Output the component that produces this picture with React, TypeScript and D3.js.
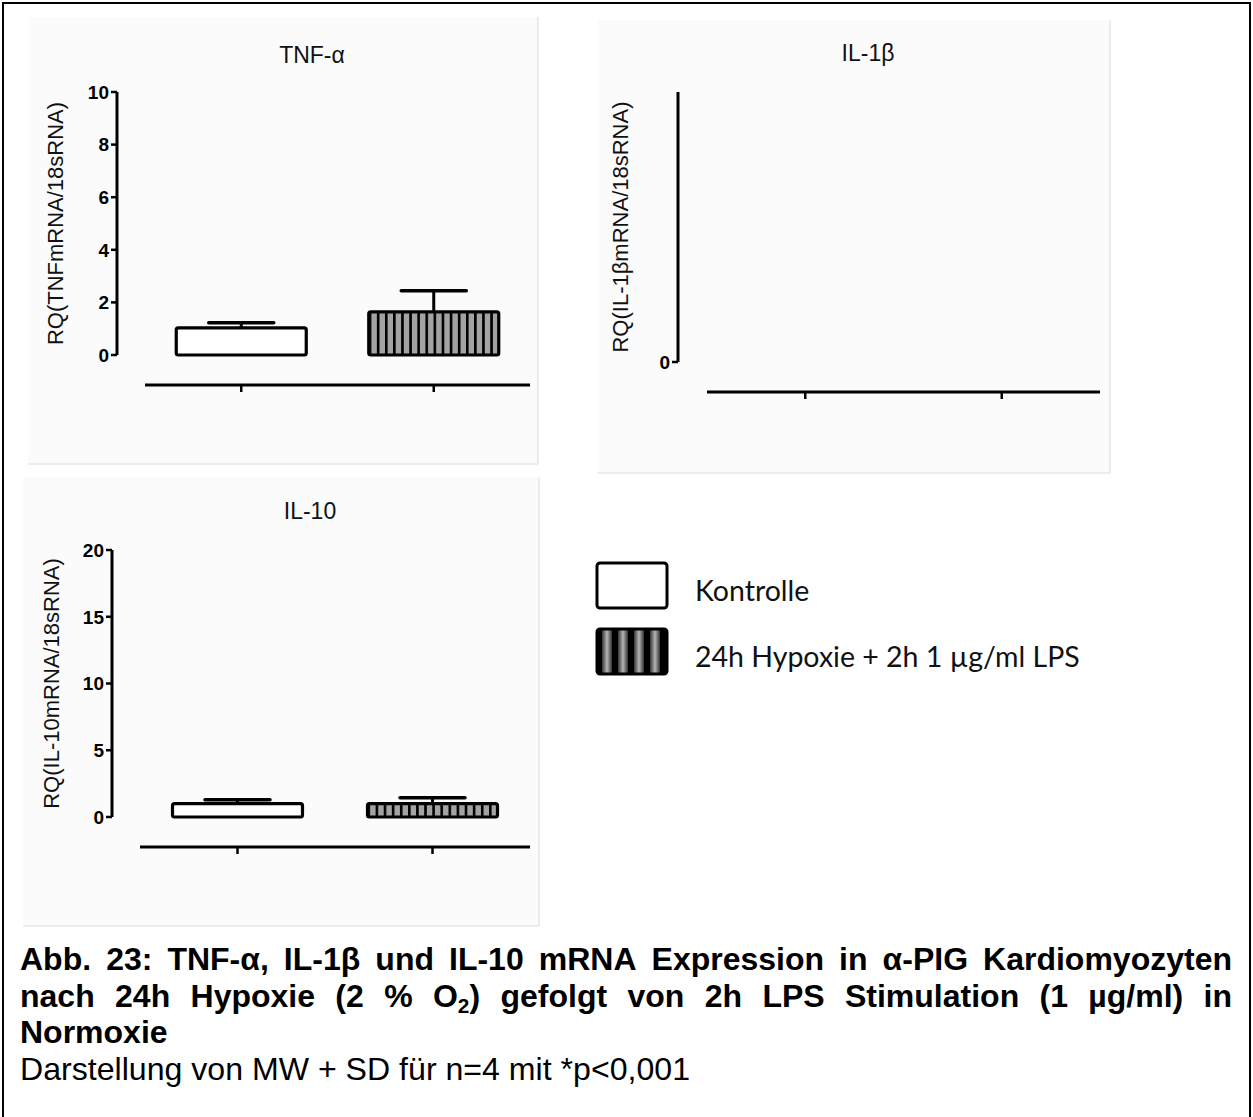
import React, { useRef, useEffect } from 'react';
import * as d3 from 'd3';

// groups (x categories)
const groups = ['Kontrolle', '24h Hypoxie + 2h 1 µg/ml LPS'];

// TNF-alpha: mean + SD
const tnfMean = [1.03, 1.64];
const tnfSd = [0.2, 0.8];
const tnfTicks = [0, 2, 4, 6, 8, 10];

// IL-1beta: nothing detected
const il1bMean = [0, 0];
const il1bSd = [0, 0];
const il1bTicks = [0];

// IL-10
const il10Mean = [1.0, 1.0];
const il10Sd = [0.3, 0.45];
const il10Ticks = [0, 5, 10, 15, 20];

const captionLines = [
  'Abb. 23: TNF-α, IL-1β und IL-10 mRNA Expression in α-PIG Kardiomyozyten',
  'nach 24h Hypoxie (2 % O_2) gefolgt von 2h LPS Stimulation (1 µg/ml) in',
  'Normoxie',
];
const captionNote = 'Darstellung von MW + SD für n=4 mit *p<0,001';

const ARIAL = '"Liberation Sans", Arial, sans-serif';

const panels = [
  {
    id: 'tnf', title: 'TNF-α', yLabel: 'RQ(TNFmRNA/18sRNA)',
    mean: tnfMean, sd: tnfSd, ticks: tnfTicks, yMax: 10,
    box: [28, 17, 510, 447], axisX: 117, yTop: 92, yBottom: 355,
    xAxisY: 385, xRange: [145, 530], labelX: 63, titleX: 312, titleY: 63,
  },
  {
    id: 'il1b', title: 'IL-1β', yLabel: 'RQ(IL-1βmRNA/18sRNA)',
    mean: il1bMean, sd: il1bSd, ticks: il1bTicks, yMax: 1,
    box: [598, 20, 512, 453], axisX: 678, yTop: 92, yBottom: 362,
    xAxisY: 392, xRange: [707, 1100], labelX: 628, titleX: 868, titleY: 61,
  },
  {
    id: 'il10', title: 'IL-10', yLabel: 'RQ(IL-10mRNA/18sRNA)',
    mean: il10Mean, sd: il10Sd, ticks: il10Ticks, yMax: 20,
    box: [23, 477, 516, 449], axisX: 112, yTop: 550, yBottom: 817,
    xAxisY: 847, xRange: [140, 530], labelX: 59, titleX: 310, titleY: 519,
  },
];

function Panel({ p }) {
  const y = d3.scaleLinear().domain([0, p.yMax]).range([p.yBottom, p.yTop]);
  const x = d3.scalePoint().domain(groups).range(p.xRange).padding(0.5);
  const barW = 130;
  const [bx, by, bw, bh] = p.box;
  const labelY = (p.yTop + p.yBottom) / 2;

  return (
    <g>
      <rect x={bx} y={by} width={bw} height={bh} fill="#fbfbfb" />
      <line x1={bx + bw} x2={bx + bw} y1={by} y2={by + bh} stroke="#e6e6e6" strokeWidth={1.5} />
      <line x1={bx} x2={bx + bw} y1={by + bh} y2={by + bh} stroke="#e6e6e6" strokeWidth={1.5} />

      <text x={p.titleX} y={p.titleY} textAnchor="middle"
        fontFamily={ARIAL} fontSize={23} fill="#111">{p.title}</text>

      <text transform={`translate(${p.labelX},${labelY}) rotate(-90)`} textAnchor="middle"
        fontFamily={ARIAL} fontSize={22} fill="#111">{p.yLabel}</text>

      {/* y axis */}
      <line x1={p.axisX} x2={p.axisX} y1={p.yTop} y2={p.yBottom} stroke="#000" strokeWidth={3} />
      {p.ticks.map(t => (
        <g key={t}>
          <line x1={p.axisX - 6} x2={p.axisX} y1={y(t)} y2={y(t)} stroke="#000" strokeWidth={2.5} />
          <text x={p.axisX - 8} y={y(t)} dy="0.36em" textAnchor="end"
            fontFamily={ARIAL} fontWeight="bold" fontSize={19}>{t}</text>
        </g>
      ))}

      {/* x axis */}
      <line x1={p.xRange[0]} x2={p.xRange[1]} y1={p.xAxisY} y2={p.xAxisY} stroke="#000" strokeWidth={3} />
      {groups.map(g => (
        <line key={g} x1={x(g)} x2={x(g)} y1={p.xAxisY} y2={p.xAxisY + 7} stroke="#000" strokeWidth={2.5} />
      ))}

      {/* bars with SD */}
      {groups.map((g, i) => {
        const m = p.mean[i];
        if (m <= 0) return null;
        const cx = x(g);
        const top = y(m);
        const errTop = y(m + p.sd[i]);
        return (
          <g key={g}>
            <line x1={cx} x2={cx} y1={top} y2={errTop} stroke="#000" strokeWidth={3} />
            <line x1={cx - barW / 4} x2={cx + barW / 4} y1={errTop} y2={errTop}
              stroke="#000" strokeWidth={3.5} strokeLinecap="round" />
            <rect x={cx - barW / 2} y={top} width={barW} height={y(0) - top}
              fill={i === 0 ? '#fff' : `url(#hatch-${p.id})`} stroke="#000" strokeWidth={3.2} rx={2} />
          </g>
        );
      })}
    </g>
  );
}

function Caption() {
  const ref = useRef(null);

  useEffect(() => {
    const g = d3.select(ref.current);
    g.selectAll('*').remove();
    const left = 20;
    const right = 1232;
    const fs = 32;
    const baseY = 970;
    const lh = 36.5;

    captionLines.forEach((line, li) => {
      const ly = baseY + li * lh;
      const justify = li < captionLines.length - 1;
      const lg = g.append('g');
      const words = line.split(' ');
      const nodes = words.map(w => {
        const t = lg.append('text')
          .attr('y', ly)
          .attr('font-family', ARIAL)
          .attr('font-weight', 'bold')
          .attr('font-size', fs);
        if (w.includes('_')) {
          const [a, rest] = w.split('_');
          t.append('tspan').text(a);
          t.append('tspan').attr('font-size', fs * 0.65).attr('dy', 6).text(rest[0]);
          t.append('tspan').attr('dy', -6).text(rest.slice(1));
        } else {
          t.text(w);
        }
        return t;
      });
      const widths = nodes.map(n => n.node().getComputedTextLength());
      const total = d3.sum(widths);
      const minGap = fs * 0.28;
      let gap = minGap;
      let sx = 1;
      if (justify) {
        const need = total + minGap * (words.length - 1);
        if (need > right - left) sx = (right - left) / need;
        else gap = (right - left - total) / (words.length - 1);
      }
      let cx = 0;
      nodes.forEach((n, i) => {
        n.attr('x', cx);
        cx += widths[i] + gap;
      });
      lg.attr('transform', `translate(${left},0) scale(${sx},1)`);
    });

    g.append('text')
      .attr('x', left)
      .attr('y', baseY + captionLines.length * lh)
      .attr('font-family', ARIAL)
      .attr('font-size', fs)
      .attr('textLength', 670)
      .attr('lengthAdjust', 'spacingAndGlyphs')
      .text(captionNote);
  }, []);

  return <g ref={ref} />;
}

export default function App() {
  const W = 1253;
  const H = 1117;
  const legendX = 597;
  const legendY = [563, 629];

  return (
    <svg width={W} height={H} style={{ position: 'absolute', left: 0, top: 0, background: '#fff' }}>
      <defs>
        {panels.map(p => (
          <pattern key={p.id} id={`hatch-${p.id}`} patternUnits="userSpaceOnUse" width={8.1} height={10}
            patternTransform={`translate(${p.xRange[0] + (p.xRange[1] - p.xRange[0]) * 0.75 - 65},0)`}>
            <rect width={8.1} height={10} fill="#a3a3a3" />
            <rect x={0} width={2.6} height={10} fill="#000" />
          </pattern>
        ))}
        <linearGradient id="legendStripe" x1="0" x2="1" y1="0" y2="0">
          <stop offset="0" stopColor="#333" />
          <stop offset="0.5" stopColor="#b5b5b5" />
          <stop offset="1" stopColor="#333" />
        </linearGradient>
        <pattern id="legendHatch" patternUnits="userSpaceOnUse" width={16} height={50}
          patternTransform={`translate(${legendX},0)`}>
          <rect width={16} height={50} fill="#000" />
          <rect x={5} width={10} height={50} fill="url(#legendStripe)" />
        </pattern>
      </defs>

      <rect x={0} y={0} width={W} height={H} fill="#fff" />
      <rect x={3} y={3} width={1247} height={H + 10} fill="none" stroke="#000" strokeWidth={2} />

      {panels.map(p => <Panel key={p.id} p={p} />)}

      {/* legend */}
      {groups.map((g, i) => (
        <g key={g}>
          <rect x={legendX} y={legendY[i]} width={70} height={45} rx={3}
            fill={i === 0 ? '#fff' : 'url(#legendHatch)'} stroke="#000" strokeWidth={3} />
          <text x={695} y={legendY[i] + 38} fontFamily="Lato, 'Open Sans', sans-serif" fontSize={28.5}
            fill="#111">{g}</text>
        </g>
      ))}

      <Caption />
    </svg>
  );
}
